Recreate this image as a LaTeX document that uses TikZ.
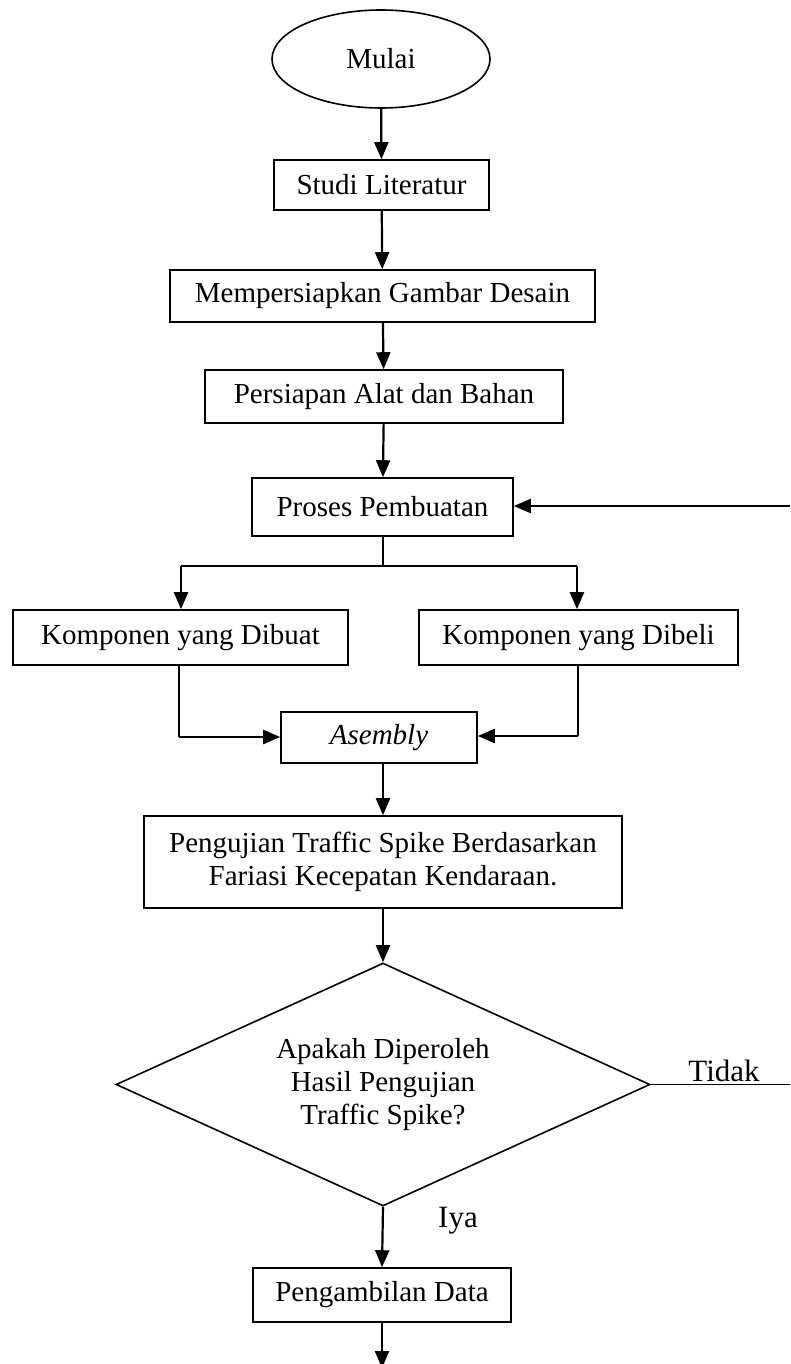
\documentclass[tikz,border=0pt]{standalone}
\usepackage{fontspec}
\setmainfont{Liberation Serif}
\usetikzlibrary{arrows.meta,shapes.geometric}
\begin{document}
\begin{tikzpicture}[x=1pt,y=-1pt,
  every node/.style={font=\fontsize{29}{33}\selectfont},
  boxnode/.style={draw,line width=1.6pt,rectangle,inner sep=0pt,align=center},
  flowarrow/.style={line width=2.2pt,-{Triangle[length=17pt,width=14pt]}},
  thinline/.style={line width=1.1pt},
  lbl/.style={font=\fontsize{31}{35}\selectfont,anchor=base}]
\useasboundingbox[fill=white] (0,0) rectangle (790,1364);

\node[draw,line width=1.6pt,ellipse,minimum width=218pt,minimum height=98pt,inner sep=0pt] (mulai) at (381,59) {Mulai};
\node[boxnode,minimum width=215pt,minimum height=50pt] (studi) at (381.5,185) {Studi Literatur};
\node[boxnode,minimum width=425pt,minimum height=52pt] (desain) at (382.5,296) {Mempersiapkan Gambar Desain};
\node[boxnode,minimum width=358pt,minimum height=53pt] (alat) at (384,396.5) {Persiapan Alat dan Bahan};
\node[boxnode,minimum width=261pt,minimum height=58pt] (proses) at (382.5,507) {Proses Pembuatan};
\node[boxnode,minimum width=335pt,minimum height=55pt] (dibuat) at (180.5,637.5) {Komponen yang Dibuat};
\node[boxnode,minimum width=319pt,minimum height=55pt] (dibeli) at (578.5,637.5) {Komponen yang Dibeli};
\node[boxnode,minimum width=196pt,minimum height=51pt] (asembly) at (379,737.5) {\itshape Asembly};
\node[boxnode,minimum width=478pt,minimum height=92pt] (uji) at (383,862) {Pengujian Traffic Spike Berdasarkan\\Fariasi Kecepatan Kendaraan.};
\node[draw,line width=1.6pt,diamond,aspect=2.2,minimum width=534pt,minimum height=243pt,inner sep=0pt,align=center] (cek) at (383,1084.5) {Apakah Diperoleh\\Hasil Pengujian\\Traffic Spike?};
\node[boxnode,minimum width=258pt,minimum height=54pt] (ambil) at (382,1295) {Pengambilan Data};

% main flow
\draw[flowarrow] (mulai) -- (studi);
\draw[flowarrow] (studi) -- (desain);
\draw[flowarrow] (desain) -- (alat);
\draw[flowarrow] (alat) -- (proses);

% loop back from the right
\coordinate (back) at (790,506);
\draw[flowarrow] (back) -- (back -| proses.east);

% split
\coordinate (split) at (383,566);
\coordinate (splitL) at (181,566);
\coordinate (splitR) at (577,566);
\draw[thinline] (proses.south -| split) -- (split);
\draw[thinline] (splitL) -- (splitR);
\draw[flowarrow] (splitL) -- (splitL |- dibuat.north);
\draw[flowarrow] (splitR) -- (splitR |- dibeli.north);

% merge into Asembly
\coordinate (mergeL) at (179,737);
\coordinate (mergeR) at (578,736);
\draw[thinline] (dibuat.south -| mergeL) -- (mergeL);
\draw[flowarrow] (mergeL) -- (mergeL -| asembly.west);
\draw[thinline] (dibeli.south -| mergeR) -- (mergeR);
\draw[flowarrow] (mergeR) -- (mergeR -| asembly.east);

\draw[flowarrow] (asembly.south -| uji.north) -- (uji.north);
\draw[flowarrow] (uji.south -| cek.north) -- (cek.north);

% decision
\coordinate (tidakEnd) at (790,1084.5);
\draw[thinline] (cek.east) -- (tidakEnd);
\node[lbl] (tidak) at (724,1081) {Tidak};
\draw[flowarrow] (cek.south) -- (ambil.north);
\node[lbl] (iya) at (458,1227) {Iya};

\coordinate (endpt) at (382,1368);
\draw[flowarrow] (ambil.south) -- (endpt);
\end{tikzpicture}
\end{document}
